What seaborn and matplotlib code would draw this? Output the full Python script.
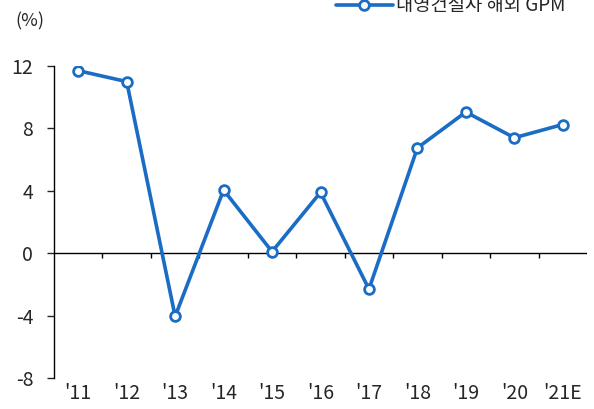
import numpy as np
import pandas as pd
import matplotlib
matplotlib.use("Agg")
import matplotlib.pyplot as plt
import seaborn as sns

# data
years = ["'11", "'12", "'13", "'14", "'15", "'16", "'17", "'18", "'19", "'20", "'21E"]
gpm = [11.7, 11.0, -4.05, 4.05, 0.1, 3.9, -2.3, 6.75, 9.05, 7.4, 8.25]
series_name = "내영건설사 해외 GPM"

sns.set_style("white")
plt.rcParams['font.family'] = ['Noto Sans CJK KR', 'DejaVu Sans']
plt.rcParams['axes.unicode_minus'] = False

df = pd.DataFrame({"year": years, "gpm": gpm})

fig = plt.figure(figsize=(5.94, 4.09), dpi=100)
ax = fig.add_axes([54/594, 1-378/409, 533/594, 312/409])

blue = "#1a6cc4"
sns.lineplot(data=df, x="year", y="gpm", ax=ax, color=blue, lw=2.6,
             marker="o", markersize=7, markerfacecolor="white",
             markeredgecolor=blue, markeredgewidth=2, label=series_name,
             legend=False)

ax.set_xlim(-0.5, len(years) - 0.5)
ax.set_ylim(-8, 12)
ax.set_yticks([-8, -4, 0, 4, 8, 12])
ax.set_xlabel("")
ax.set_ylabel("")

for s in ["top", "right", "bottom"]:
    ax.spines[s].set_visible(False)
ax.spines["left"].set_color("black")
ax.spines["left"].set_linewidth(1)

ax.tick_params(axis="y", left=True, length=5, width=1, direction="out", labelsize=14, pad=10)
ax.tick_params(axis="x", bottom=False, labelsize=14, pad=0)

# zero line with category-boundary ticks
ax.axhline(0, color="black", lw=1, zorder=1)
bounds = np.arange(len(years) + 1) - 0.5
ax.vlines(bounds[1:-1], -0.32, 0, color="black", lw=1, zorder=1)

fig.text(15/594, 1-21/409, "(%)", fontsize=13, va="center", ha="left")

fig.legend(handles=ax.get_lines()[:1], labels=[series_name], loc="center right",
           bbox_to_anchor=(575/594, 1-6/409), frameon=False, fontsize=13.5,
           handlelength=3, handletextpad=0.2, borderpad=0)

fig.savefig("out.png", dpi=100)
